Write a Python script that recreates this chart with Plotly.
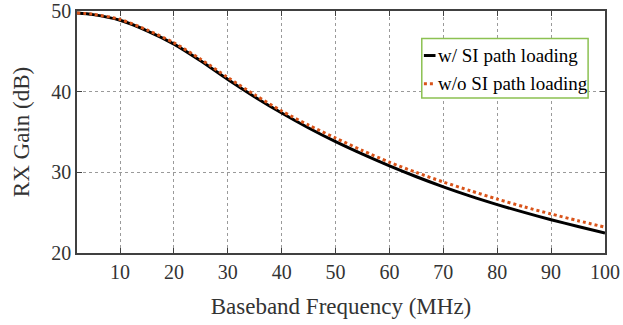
import plotly.graph_objects as go

freq_mhz = [2, 5, 10, 15, 20, 25, 30, 35, 40, 45, 50, 55, 60, 65, 70, 75, 80, 85, 90, 95, 100]
gain_with_si = [49.75, 49.55, 48.85, 47.55, 45.9, 43.8, 41.5, 39.35, 37.35, 35.5, 33.8, 32.25,
                30.8, 29.45, 28.2, 27.05, 26.0, 25.03, 24.13, 23.28, 22.48]
gain_without_si = [49.75, 49.6, 48.95, 47.65, 46.05, 44.0, 41.75, 39.6, 37.6, 35.85, 34.25, 32.7,
                   31.25, 29.98, 28.8, 27.72, 26.68, 25.72, 24.84, 24.0, 23.2]
name_with = "w/ SI path loading"
name_without = "w/o SI path loading"
x_ticks = [10, 20, 30, 40, 50, 60, 70, 80, 90, 100]
y_ticks = [20, 30, 40, 50]

FONT = "Liberation Serif"
AX = "#404040"
TXT = "#333333"
RED = "#D95319"

fig = go.Figure()
fig.add_trace(go.Scatter(x=freq_mhz, y=gain_with_si, name=name_with, mode="lines",
                         line=dict(color="black", width=3, shape="spline", smoothing=0.8)))
fig.add_trace(go.Scatter(x=freq_mhz, y=gain_without_si, name=name_without, mode="lines",
                         line=dict(color=RED, width=3, dash="dot", shape="spline", smoothing=0.8)))

axis_common = dict(
    showline=True, linecolor=AX, linewidth=1.5, mirror="ticks",
    ticks="inside", ticklen=5, tickcolor=AX, tickwidth=1,
    showgrid=True, gridcolor="#9a9a9a", gridwidth=1, griddash="dot",
    zeroline=False, tickfont=dict(family=FONT, size=20, color=TXT),
    ticklabeloverflow="allow", automargin=False,
)

fig.update_layout(
    width=623, height=325,
    margin=dict(l=77, r=18, t=11, b=72),
    paper_bgcolor="white", plot_bgcolor="white",
    showlegend=False,
    font=dict(family=FONT, color=TXT),
    xaxis=dict(range=[2, 100], tickvals=x_ticks,
               title=dict(text="Baseband Frequency (MHz)", font=dict(family=FONT, size=23, color=TXT), standoff=16),
               **axis_common),
    yaxis=dict(range=[20, 50], tickvals=y_ticks,
               title=dict(text="RX Gain (dB)", font=dict(family=FONT, size=23, color=TXT), standoff=15),
               **axis_common),
)

# legend box
fig.add_shape(type="rect", xref="paper", yref="paper", x0=0.653, x1=0.968, y0=0.641, y1=0.886,
              line=dict(color="#8cc152", width=1.5), fillcolor="white", layer="above")
rows = [(name_with, "black", "solid", 0.816), (name_without, RED, "dot", 0.699)]
for label, col, dash, yy in rows:
    fig.add_shape(type="line", xref="paper", yref="paper", x0=0.657, x1=0.679, y0=yy, y1=yy,
                  line=dict(color=col, width=3, dash=dash), layer="above")
    fig.add_annotation(xref="paper", yref="paper", x=0.680, y=yy, xanchor="left", yanchor="middle",
                       text=label, showarrow=False, font=dict(family=FONT, size=19, color="black"))

fig.write_html("out.html", config={"displayModeBar": False},
               post_script="document.body.style.margin='0';")
